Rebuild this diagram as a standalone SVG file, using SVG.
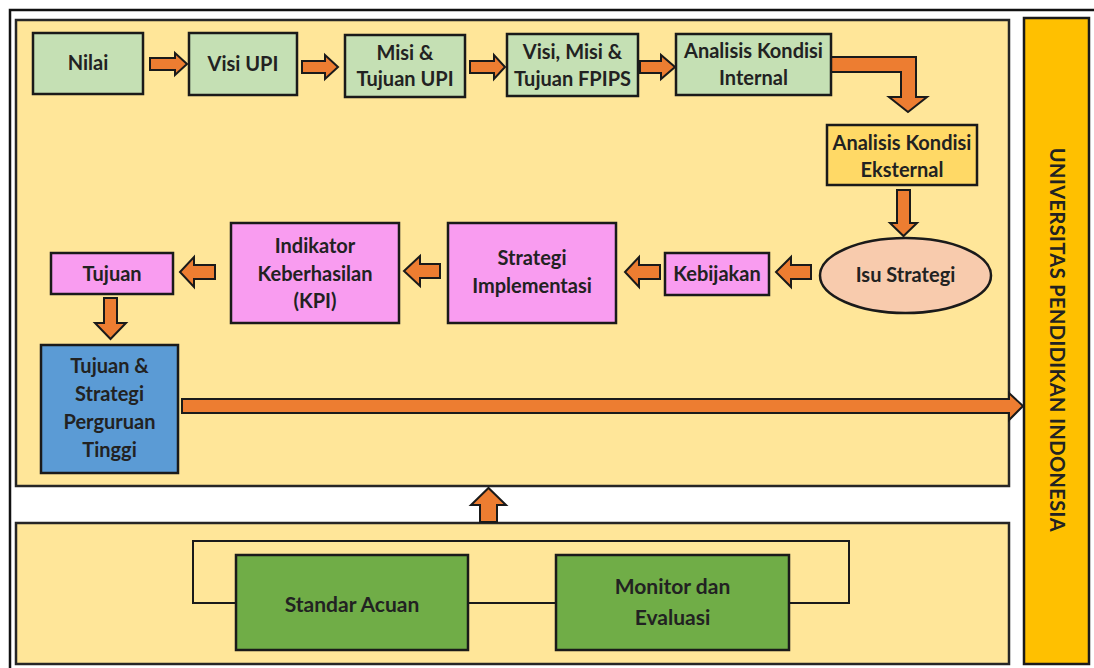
<svg xmlns="http://www.w3.org/2000/svg" width="1094" height="668" viewBox="0 0 1094 668">
<style>
.panel{fill:#FFE699;stroke:#262626;stroke-width:2.5}
.box{stroke:#1a1a1a;stroke-width:2.5}
.g1{fill:#C5E0B4}
.pk{fill:#F99CF0}
.ye{fill:#FFD966}
.bl{fill:#5B9BD5}
.dg{fill:#70AD47}
.arr{fill:#ED7D31;stroke:#1a1a1a;stroke-width:2;stroke-linejoin:miter}
.t{font-family:Lato,"Open Sans","Liberation Sans",sans-serif;font-weight:bold;font-size:20px;fill:#222;text-anchor:middle}
.tb{font-family:Lato,"Open Sans","Liberation Sans",sans-serif;font-weight:bold;font-size:21px;fill:#222;text-anchor:middle}
.ln{fill:none;stroke:#1a1a1a;stroke-width:2}
</style>
<rect width="1094" height="668" fill="#ffffff"/>
<path d="M10,668 L10,10 L1094,10" fill="none" stroke="#111" stroke-width="2.5"/>
<g id="panel-top"><rect class="panel" x="16" y="20" width="993" height="466"/></g>
<g id="panel-bottom"><rect class="panel" x="16" y="523" width="993" height="141"/></g>
<g id="sidebar">
<rect x="1024" y="18" width="65" height="646" fill="#FFC000" stroke="#1a1a1a" stroke-width="2.5"/>
<text class="t" transform="translate(1058,340) rotate(90)" dominant-baseline="central" style="letter-spacing:0.4px">UNIVERSITAS PENDIDIKAN INDONESIA</text>
</g>
<g id="connectors">
<path class="arr" d="M150,58 L175,58 L175,53 L187,64 L175,75 L175,70 L150,70 Z"/>
<path class="arr" d="M302,61 L325,61 L325,55 L338,67 L325,79 L325,73 L302,73 Z"/>
<path class="arr" d="M470,61 L494,61 L494,55 L505,67 L494,79 L494,73 L470,73 Z"/>
<path class="arr" d="M640,61 L661,61 L661,55 L675,67 L661,79 L661,73 L640,73 Z"/>
<path class="arr" d="M831,57 L916,57 L916,97 L927,97 L908,112 L889,97 L901,97 L901,72 L831,72 Z"/>
<path class="arr" d="M897,190 L910,190 L910,223 L917,223 L903.5,236 L890,223 L897,223 Z"/>
<path class="arr" d="M811,265 L791,265 L791,257 L776,272 L791,287 L791,279 L811,279 Z"/>
<path class="arr" d="M660,265 L639,265 L639,257 L625,272 L639,287 L639,279 L660,279 Z"/>
<path class="arr" d="M440,264 L420,264 L420,256 L404,271 L420,286 L420,278 L440,278 Z"/>
<path class="arr" d="M215,265 L194,265 L194,257 L180,272 L194,287 L194,279 L215,279 Z"/>
<path class="arr" d="M104,298 L117,298 L117,323 L126,323 L110.5,339 L95,323 L104,323 Z"/>
<path class="arr" d="M182,399 L1009,399 L1009,393 L1023,406 L1009,420 L1009,413 L182,413 Z"/>
<path class="arr" d="M480,522 L480,505 L471,505 L488.5,488 L506,505 L497,505 L497,522 Z"/>
<path class="ln" d="M236,603 L193,603 L193,541 L849,541 L849,603 L789,603"/>
<path class="ln" d="M468,603 L556,603"/>
</g>
<g id="nilai"><rect class="box g1" x="33" y="33" width="110" height="61"/><text class="t" x="88" y="70">Nilai</text></g>
<g id="visi-upi"><rect class="box g1" x="189" y="33" width="108" height="62"/><text class="t" x="243" y="71">Visi UPI</text></g>
<g id="misi-upi"><rect class="box g1" x="345" y="35" width="120" height="62"/><text class="t" x="405" y="60">Misi &amp;</text><text class="t" x="405" y="86">Tujuan UPI</text></g>
<g id="visi-fpips"><rect class="box g1" x="507" y="34" width="131" height="62"/><text class="t" x="572.5" y="59">Visi, Misi &amp;</text><text class="t" x="572.5" y="86">Tujuan FPIPS</text></g>
<g id="internal"><rect class="box g1" x="676" y="34" width="155" height="61"/><text class="t" x="753.5" y="58">Analisis Kondisi</text><text class="t" x="753.5" y="85">Internal</text></g>
<g id="eksternal"><rect class="box ye" x="827" y="125" width="150" height="60"/><text class="t" x="902" y="150">Analisis Kondisi</text><text class="t" x="902" y="177">Eksternal</text></g>
<g id="isu"><ellipse class="box" cx="905.5" cy="275.5" rx="85.5" ry="37.5" fill="#F8CBAD"/><text class="t" x="905.5" y="282">Isu Strategi</text></g>
<g id="kebijakan"><rect class="box pk" x="665" y="253" width="104" height="42"/><text class="t" x="717" y="281">Kebijakan</text></g>
<g id="strategi"><rect class="box pk" x="448" y="223" width="168" height="100"/><text class="t" x="532" y="265">Strategi</text><text class="t" x="532" y="293">Implementasi</text></g>
<g id="kpi"><rect class="box pk" x="231" y="223" width="168" height="100"/><text class="t" x="315" y="253">Indikator</text><text class="t" x="315" y="281">Keberhasilan</text><text class="t" x="315" y="308">(KPI)</text></g>
<g id="tujuan"><rect class="box pk" x="51" y="253" width="122" height="41"/><text class="t" x="112" y="281">Tujuan</text></g>
<g id="tujuan-pt"><rect class="box bl" x="41" y="345" width="137" height="128"/><text class="t" x="109.5" y="373">Tujuan &amp;</text><text class="t" x="109.5" y="401">Strategi</text><text class="t" x="109.5" y="429">Perguruan</text><text class="t" x="109.5" y="457">Tinggi</text></g>
<g id="standar"><rect class="box dg" x="236" y="555" width="232" height="95"/><text class="tb" x="352" y="612">Standar Acuan</text></g>
<g id="monitor"><rect class="box dg" x="556" y="555" width="233" height="95"/><text class="tb" x="672.5" y="594">Monitor dan</text><text class="tb" x="672.5" y="625">Evaluasi</text></g>
</svg>
